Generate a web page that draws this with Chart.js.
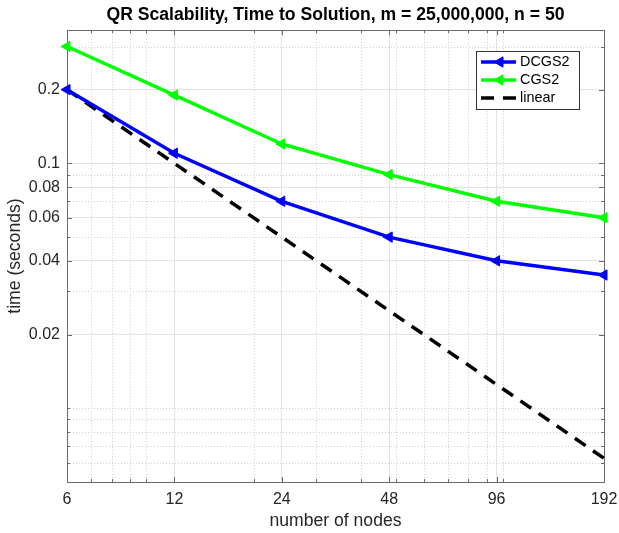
<!DOCTYPE html>
<html><head><meta charset="utf-8">
<script src="https://cdn.jsdelivr.net/npm/chart.js@4.4.1/dist/chart.umd.min.js"></script>
<style>html,body{margin:0;padding:0;background:#fff}#wrap{width:619px;height:533px}</style>
</head><body><div id="wrap"><canvas id="c" width="619" height="533"></canvas></div>
<script>
// ---- data ----
const nodes  = [6, 12, 24, 48, 96, 192];
const dcgs2  = [0.2, 0.11, 0.07, 0.05, 0.04, 0.035];
const cgs2   = [0.3, 0.19, 0.12, 0.09, 0.07, 0.06];
const linear = [0.2, 0.1, 0.05, 0.025, 0.0125, 0.00625];
const xTicks = [6, 12, 24, 48, 96, 192];
const xMinor = [7, 8, 9, 10, 20, 30, 40, 50, 60, 70, 80, 90, 100];
const yTicks = [0.02, 0.04, 0.06, 0.08, 0.1, 0.2];
const yMinor = [0.006, 0.007, 0.008, 0.009, 0.01, 0.03, 0.04, 0.05, 0.06, 0.07, 0.08, 0.09, 0.3];
const seriesLabels = ['DCGS2', 'CGS2', 'linear'];

const FONT = '"Liberation Sans", Arial, Helvetica, sans-serif';
const AXIS_COLOR = '#6b6b6b';

const pts = arr => nodes.map((x, i) => ({x: x, y: arr[i]}));

const matlabAxes = {
  id: 'matlabAxes',
  beforeDatasetsDraw(chart) {
    const {ctx, chartArea: a, scales: {x, y}} = chart;
    ctx.save();
    // minor dotted grid
    ctx.strokeStyle = '#cfcfcf';
    ctx.lineWidth = 1;
    ctx.setLineDash([1, 2]);
    xMinor.forEach(v => {
      const px = Math.round(x.getPixelForValue(v)) + 0.5;
      ctx.beginPath(); ctx.moveTo(px, a.top); ctx.lineTo(px, a.bottom); ctx.stroke();
    });
    yMinor.forEach(v => {
      if (yTicks.includes(v)) return;
      const py = Math.round(y.getPixelForValue(v)) + 0.5;
      ctx.beginPath(); ctx.moveTo(a.left, py); ctx.lineTo(a.right, py); ctx.stroke();
    });
    ctx.setLineDash([]);
    // box
    ctx.strokeStyle = AXIS_COLOR;
    ctx.strokeRect(Math.round(a.left) + 0.5, Math.round(a.top) + 0.5,
                   Math.round(a.right - a.left), Math.round(a.bottom - a.top));
    // inward ticks
    const tick = (vals, len) => {
      vals.forEach(v => {
        const px = Math.round(x.getPixelForValue(v)) + 0.5;
        ctx.beginPath();
        ctx.moveTo(px, a.bottom); ctx.lineTo(px, a.bottom - len);
        ctx.moveTo(px, a.top); ctx.lineTo(px, a.top + len);
        ctx.stroke();
      });
    };
    const ytick = (vals, len) => {
      vals.forEach(v => {
        const py = Math.round(y.getPixelForValue(v)) + 0.5;
        ctx.beginPath();
        ctx.moveTo(a.left, py); ctx.lineTo(a.left + len, py);
        ctx.moveTo(a.right, py); ctx.lineTo(a.right - len, py);
        ctx.stroke();
      });
    };
    tick(xMinor, 3); tick(xTicks, 5);
    ytick(yMinor, 3); ytick(yTicks, 5);
    ctx.restore();
  },
  afterDatasetsDraw(chart) {
    const {ctx} = chart;
    const bx = 476.5, by = 51.5, bw = 103, bh = 58;
    ctx.save();
    ctx.fillStyle = '#fff';
    ctx.fillRect(bx, by, bw, bh);
    ctx.strokeStyle = '#333';
    ctx.lineWidth = 1;
    ctx.strokeRect(bx, by, bw, bh);
    const rows = [62, 80, 98];
    chart.data.datasets.forEach((ds, i) => {
      const yy = rows[i];
      ctx.strokeStyle = ds.borderColor;
      ctx.lineWidth = ds.borderWidth;
      ctx.setLineDash(ds.borderDash || []);
      ctx.beginPath(); ctx.moveTo(481, yy); ctx.lineTo(516, yy); ctx.stroke();
      ctx.setLineDash([]);
      if (ds.pointRadius > 0) {
        ctx.fillStyle = ds.backgroundColor;
        ctx.strokeStyle = ds.borderColor;
        ctx.beginPath();
        const r = ds.pointRadius;
        ctx.moveTo(500 - r, yy);
        ctx.lineTo(500 + r * 0.5, yy - r * 0.866);
        ctx.lineTo(500 + r * 0.5, yy + r * 0.866);
        ctx.closePath(); ctx.fill(); ctx.lineWidth = 1; ctx.stroke();
      }
      ctx.fillStyle = '#000';
      ctx.font = '14.4px ' + FONT;
      ctx.textBaseline = 'middle';
      ctx.textAlign = 'left';
      ctx.fillText(ds.label, 520, yy + 0.5);
    });
    ctx.restore();
  }
};

new Chart(document.getElementById('c'), {
  type: 'line',
  data: {
    datasets: [
      {label: seriesLabels[0], data: pts(dcgs2), borderColor: '#0000ff', backgroundColor: '#0000ff',
       borderWidth: 3.5, pointStyle: 'triangle', pointRotation: -90, pointRadius: 6, pointBorderWidth: 1,
       pointBackgroundColor: '#0000ff', pointBorderColor: '#0000ff', clip: false, tension: 0},
      {label: seriesLabels[1], data: pts(cgs2), borderColor: '#00ff00', backgroundColor: '#00ff00',
       borderWidth: 3.5, pointStyle: 'triangle', pointRotation: -90, pointRadius: 6, pointBorderWidth: 1,
       pointBackgroundColor: '#00ff00', pointBorderColor: '#00ff00', clip: false, tension: 0},
      {label: seriesLabels[2], data: pts(linear), borderColor: '#000000', backgroundColor: '#000000',
       borderWidth: 3.5, borderDash: [13, 9], pointRadius: 0, clip: false, tension: 0}
    ]
  },
  options: {
    responsive: false,
    animation: false,
    devicePixelRatio: 1,
    layout: {padding: {left: 0, right: 15, top: 0, bottom: 0}},
    plugins: {
      legend: {display: false},
      tooltip: {enabled: false},
      title: {
        display: true, fullSize: false,
        text: 'QR Scalability, Time to Solution, m = 25,000,000, n = 50',
        color: '#000', font: {family: FONT, size: 17.6, weight: 'bold'},
        padding: {top: 5, bottom: 4}
      }
    },
    scales: {
      x: {
        type: 'logarithmic', min: 6, max: 192,
        afterBuildTicks: s => { s.ticks = xTicks.map(v => ({value: v})); },
        afterFit: s => { s.height = 51; s.paddingLeft = 0; s.paddingRight = 0; },
        ticks: {callback: v => String(v), color: '#262626', font: {family: FONT, size: 16}, padding: 8, maxRotation: 0, autoSkip: false},
        grid: {color: '#e3e3e3', drawTicks: false, lineWidth: 1},
        border: {display: false},
        title: {display: true, text: 'number of nodes', color: '#262626', font: {family: FONT, size: 17.6}, padding: {top: 0, bottom: 1.5}}
      },
      y: {
        type: 'logarithmic', min: 0.005, max: 0.35,
        afterBuildTicks: s => { s.ticks = yTicks.map(v => ({value: v})); },
        afterFit: s => { s.width = 67; s.paddingTop = 0; s.paddingBottom = 0; },
        ticks: {callback: v => String(v), color: '#262626', font: {family: FONT, size: 16}, padding: 7, autoSkip: false},
        grid: {color: '#e3e3e3', drawTicks: false, lineWidth: 1},
        border: {display: false},
        title: {display: true, text: 'time (seconds)', color: '#262626', font: {family: FONT, size: 17.6}, padding: {top: 5, bottom: 0}}
      }
    }
  },
  plugins: [matlabAxes]
});
</script></body></html>
